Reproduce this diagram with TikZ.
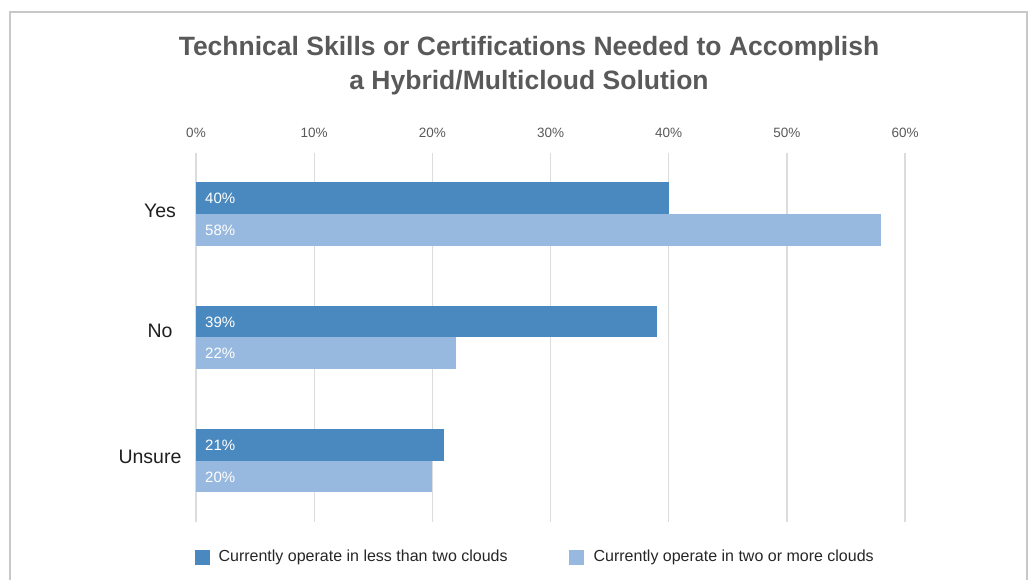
\documentclass[tikz,border=0pt]{standalone}
\usepackage{fontspec}
\setmainfont{Liberation Sans}
\usetikzlibrary{positioning}

\definecolor{darkbar}{HTML}{4A89BF}
\definecolor{lightbar}{HTML}{98B9DF}
\definecolor{titlegray}{HTML}{595959}
\definecolor{gridgray}{HTML}{DCDCDC}
\definecolor{framegray}{HTML}{C8C8C8}

\begin{document}
\begin{tikzpicture}[x=1pt,y=-1pt,
    tick/.style={font=\fontsize{13.5}{15}\selectfont,text=titlegray},
    cat/.style={font=\fontsize{19.5}{22}\selectfont,text=black!88},
    val/.style={font=\fontsize{15}{17}\selectfont,text=white,anchor=west,inner sep=0pt},
    legtext/.style={font=\fontsize{16}{18}\selectfont,text=black!85,anchor=west,inner sep=0pt},
    legbox/.style={minimum size=15pt,inner sep=0pt,anchor=west}]
      \useasboundingbox (0,0) rectangle (1032,580);
      \draw[framegray,line width=2.5pt] (10,580) -- (10,12) -- (1027,12) -- (1027,580);

      \node[font=\bfseries\fontsize{26.5}{34}\selectfont,text=titlegray,align=center]
        (title) at (529,66) {Technical Skills or Certifications Needed to Accomplish\\a Hybrid/Multicloud Solution};

      % grid and ticks
      \foreach \p in {0,10,...,60} {
        \draw[gridgray,line width=1.3pt] (196+11.817*\p,153) -- (196+11.817*\p,522);
        \node[tick] (t\p) at (196+11.817*\p,133) {\p\%};
      }

      % bars
      \fill[darkbar]  (196,182) rectangle (196+11.817*40,214);
      \fill[lightbar] (196,214) rectangle (196+11.817*58,246);
      \fill[darkbar]  (196,306) rectangle (196+11.817*39,337);
      \fill[lightbar] (196,337) rectangle (196+11.817*22,369);
      \fill[darkbar]  (196,429) rectangle (196+11.817*21,461);
      \fill[lightbar] (196,461) rectangle (196+11.817*20,492);

      \node[val] (yes1) at (205,198) {40\%};
      \node[val] (yes2) at (205,230) {58\%};
      \node[val] (no1) at (205,322) {39\%};
      \node[val] (no2) at (205,353) {22\%};
      \node[val] (uns1) at (205,445) {21\%};
      \node[val] (uns2) at (205,477) {20\%};

      \node[cat] (yes) at (160,211) {Yes};
      \node[cat] (no) at (160,331) {No};
      \node[cat] (unsure) at (150,457) {Unsure};

      % legend
      \node[legbox,fill=darkbar] (key1) at (195,557) {};
      \node[legtext] (lab1) [right=8pt of key1] {Currently operate in less than two clouds};
      \node[legbox,fill=lightbar] (key2) at (569,557) {};
      \node[legtext] (lab2) [right=9pt of key2] {Currently operate in two or more clouds};
    \end{tikzpicture}
\end{document}
